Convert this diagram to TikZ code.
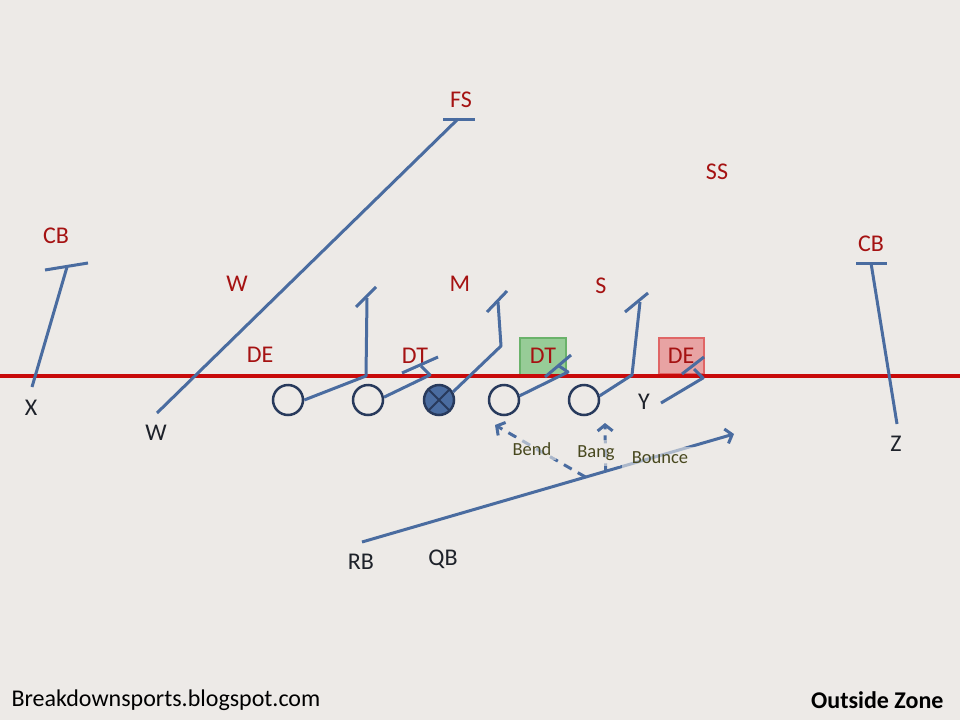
\documentclass[tikz,border=0pt]{standalone}
\usepackage{fontspec}
\setmainfont{Carlito}
\usetikzlibrary{arrows.meta}

\definecolor{bgc}{RGB}{237,234,231}
\definecolor{rte}{RGB}{74,108,160}
\definecolor{oline}{RGB}{40,58,92}
\definecolor{scrim}{RGB}{200,10,10}
\definecolor{dred}{RGB}{165,18,18}
\definecolor{ink}{RGB}{30,34,42}
\definecolor{optxt}{RGB}{72,72,30}
\definecolor{gfill}{RGB}{151,204,151}
\definecolor{gbord}{RGB}{106,178,106}
\definecolor{rfill}{RGB}{232,163,163}
\definecolor{rbord}{RGB}{224,102,102}

\begin{document}
\begin{tikzpicture}[x=1pt,y=-1pt,
	route/.style={draw=rte,line width=3pt,line join=round},
	lineman/.style={circle,draw=oline,line width=2.5pt,minimum size=30pt,inner sep=0pt},
	defense/.style={text=dred,font=\fontsize{24}{28}\selectfont},
	offense/.style={text=ink,font=\fontsize{24}{28}\selectfont},
	option/.style={text=optxt,font=\fontsize{18.5}{22}\selectfont,fill=bgc,fill opacity=0.6,text opacity=1,inner sep=5pt},
	tip/.style={-{Straight Barb[length=6pt,width=15pt]}}]
		\fill[bgc] (0,0) rectangle (960,720);
		\useasboundingbox (0,0) rectangle (960,720);
		
		% defense
		\node[defense] (fs) at (461,100) {FS};
		\node[defense] (ss) at (717,172) {SS};
		\node[defense] (cbl) at (56,236) {CB};
		\node[defense] (cbr) at (871,244) {CB};
		\node[defense] (wlb) at (237,284) {W};
		\node[defense] (mlb) at (460,284) {M};
		\node[defense] (slb) at (601,286) {S};
		\node[defense] (del) at (260,355) {DE};
		\node[defense] (dtl) at (415,356) {DT};
		\node[defense,draw=gbord,fill=gfill,line width=2pt,minimum width=46pt,minimum height=37pt,inner sep=0pt] (dtr) at (543,356) {DT};
		\node[defense,draw=rbord,fill=rfill,line width=2pt,minimum width=45pt,minimum height=36pt,inner sep=0pt] (der) at (681,356) {DE};
		
		\draw[scrim,line width=4pt] (0,376)--(960,376);
		
		% offense
		\node[lineman] (lt) at (288,400) {};
		\node[lineman] (lg) at (368,400) {};
		\node[lineman,fill=rte] (c) at (439,400) {};
		\draw[oline,line width=2pt] (c.45)--(c.225) (c.135)--(c.315);
		\node[lineman] (rg) at (504,400) {};
		\node[lineman] (rt) at (584,400) {};
		\node[offense] (x) at (31,408) {X};
		\node[offense] (w) at (156,433) {W};
		\node[offense] (y) at (644,402) {Y};
		\node[offense] (z) at (896,444) {Z};
		\node[offense] (rb) at (361,562) {RB};
		\node[offense] (qb) at (443,559) {QB};
		
		\coordinate (xstart) at (32,387);
		\coordinate (wstart) at (157,413);
		\coordinate (ystart) at (661,403);
		\coordinate (zstart) at (897,424);
		\coordinate (rbstart) at (362,542);
		\coordinate (bounce) at (734,434);
		
		% routes and blocks
		\draw[route] (xstart)--(67,267);
		\draw[route] (45,270)--(88,263);
		\draw[route] (wstart)--(458,119);
		\draw[route] (443,119)--(475,119);
		\draw[route] (zstart)--(871,263);
		\draw[route] (856,263)--(887,263);
		
		\draw[route] (lt.east)--(366,376)--(367,298);
		\draw[route] (356,307)--(376,287);
		\draw[route] (lg.10)--(430,375)--(421,366);
		\draw[route] (402,373)--(438,357);
		\draw[route] (c.30)--(501,346)--(498,302);
		\draw[route] (487,312)--(507,291);
		\draw[route] (rg.15)--(568,372)--(559,366);
		\draw[route] (545,377)--(571,355);
		\draw[route] (rt.15)--(632,375)--(640,302);
		\draw[route] (625,312)--(648,293);
		\draw[route] (ystart)--(703,378)--(694,369);
		\draw[route] (682,374)--(704,357);
		
		% run reads
		\draw[route,tip] (rbstart)--(bounce) coordinate[pos=0.601] (bendroot) coordinate[pos=0.655] (bangroot);
		\coordinate (bend) at (495,425);
		\coordinate (bang) at (605,423);
		\draw[route,tip,dash pattern=on 9pt off 7pt] (bendroot)--(bend);
		\draw[route,tip,dash pattern=on 8pt off 6pt] (bangroot)--(bang);
		\node[option] (bendl) at (532,449) {Bend};
		\node[option] (bangl) at (596,453) {Bang};
		\node[option,inner xsep=10pt] (bouncel) at (660,458) {Bounce};
		
		\node[anchor=west,font=\fontsize{24}{28}\selectfont] (site) at (8,700) {Breakdownsports.blogspot.com};
		\node[anchor=east,font=\bfseries\fontsize{24}{28}\selectfont] (title) at (947,700) {Outside Zone};
	\end{tikzpicture}
\end{document}
